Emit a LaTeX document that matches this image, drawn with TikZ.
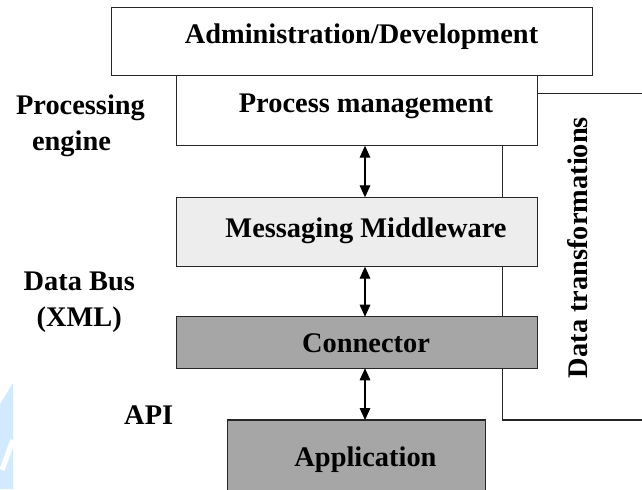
\documentclass[tikz,border=0pt]{standalone}
\usepackage{fontspec}
\setmainfont{Liberation Serif}
\usetikzlibrary{arrows.meta}
\begin{document}
\begin{tikzpicture}[x=0.75pt,y=-0.75pt,
  layer/.style={draw=black!85,line width=1pt,rectangle,inner sep=0pt,outer sep=0pt},
  lbl/.style={font=\fontsize{21.3}{24}\selectfont\bfseries,inner sep=0pt},
  link/.style={draw=black!85,line width=1pt},
  dblarrow/.style={line width=0.8pt,{Triangle[length=9pt,width=8pt]}-{Triangle[length=9pt,width=8pt]}}]
\useasboundingbox (0,0) rectangle (642,489);
\clip (0,0) rectangle (642,489);

% faint watermark corner
\fill[blue!45!cyan!18] (0,404) -- (13,383) -- (13,489) -- (0,489) -- cycle;
\draw[white,line width=4pt] (2,470) -- (13,440);

% fixed reference points
\coordinate (ax) at (365,0);
\coordinate (vx) at (502.7,0);
\coordinate (topout) at (650,93.3);
\coordinate (botout) at (650,420);

% layer boxes
\node[layer,fill=white,minimum width=360.75pt,minimum height=51.3pt] (admin) at (352.2,41.5) {};
\node[layer,fill=white,minimum width=271.05pt,minimum height=52.5pt] (proc) at (357,110.7) {};

% data transformation bracket, drawn below the lower boxes
\draw[link] (proc.east |- topout) -- (topout);
\draw[link] (proc.south -| vx) -- (vx |- botout) -- (botout);

\node[layer,fill=black!7,minimum width=271.05pt,minimum height=52.05pt] (msg) at (357,232) {};
\node[layer,fill=black!35,minimum width=271.05pt,minimum height=38.7pt] (conn) at (357,342.5) {};
\node[layer,fill=black!35,minimum width=193.5pt,minimum height=54pt] (app) at (356.7,456) {};

% box captions
\node[lbl] (tadmin) at (361.5,37) {Administration/Development};
\node[lbl] (tproc) at (366,106) {Process management};
\node[lbl] (tmsg) at (366,231) {Messaging Middleware};
\node[lbl] (tconn) at (366,343.5) {Connector};
\node[lbl] (tapp) at (365.5,460) {Application};

% interfaces between layers
\draw[dblarrow] (proc.south -| ax) -- (msg.north -| ax);
\draw[dblarrow] (msg.south -| ax) -- (conn.north -| ax);
\draw[dblarrow] (conn.south -| ax) -- (app.north -| ax);

% side labels
\node[lbl] (lproc) at (80.5,108) {Processing};
\node[lbl] (leng) at (71.5,144) {engine};
\node[lbl] (lbus) at (79.3,281.5) {Data Bus};
\node[lbl] (lxml) at (79.3,319.5) {(XML)};
\node[lbl] (lapi) at (148.7,415.5) {API};
\node[lbl,rotate=90] (ldt) at (577.5,247.5) {Data transformations};
\end{tikzpicture}
\end{document}
